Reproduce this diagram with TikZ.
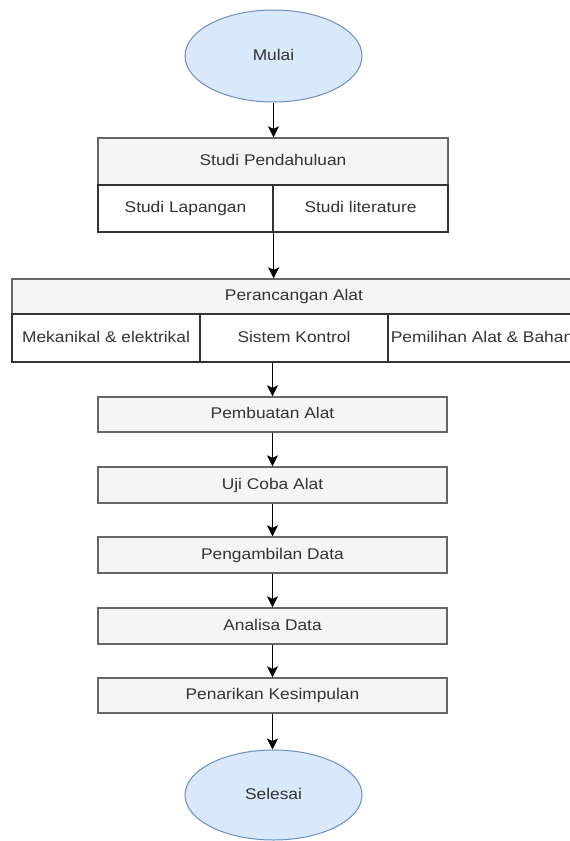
\documentclass[tikz,border=0pt]{standalone}
\usepackage{fontspec}
\setmainfont[FakeStretch=1.12]{Liberation Sans}
\usetikzlibrary{shapes.geometric,arrows.meta}
\definecolor{txt}{HTML}{333333}
\definecolor{hfill}{HTML}{F5F5F5}
\definecolor{hdraw}{HTML}{666666}
\definecolor{efill}{HTML}{DAE8FC}
\definecolor{edraw}{HTML}{6C8EBF}
\definecolor{cdraw}{HTML}{333333}
\begin{document}
\begin{tikzpicture}[x=1pt,y=-1pt,
  every node/.style={font=\fontsize{15.5}{18}\selectfont, text=txt, inner sep=0pt, text height=11.5pt, text depth=3.5pt},
  term/.style={ellipse, draw=edraw, fill=efill, line width=1pt, minimum width=177pt, minimum height=92pt},
  hbox/.style={rectangle, draw=hdraw, fill=hfill, line width=1.3pt},
  cell/.style={rectangle, draw=cdraw, fill=white, line width=1.3pt},
  arr/.style={draw=black, line width=1.6pt, -{Stealth[length=11pt,width=11pt,inset=2.5pt]}}]
\useasboundingbox (0,0) rectangle (570,841);
\clip (0,0) rectangle (570,841);
\fill[white] (0,0) rectangle (570,841);

\node[term] (mulai) at (273.5,56) {Mulai};

\node[hbox, minimum width=350pt, minimum height=47pt] (sp) at (273,161.5) {Studi Pendahuluan};
\node[cell, minimum width=175pt, minimum height=47pt] (sl) at (185.5,208.5) {Studi Lapangan};
\node[cell, minimum width=175pt, minimum height=47pt] (slit) at (360.5,208.5) {Studi literature};

\node[hbox, minimum width=564pt, minimum height=35pt] (pa) at (294,296.5) {Perancangan Alat};
\node[cell, minimum width=188pt, minimum height=48pt] (mek) at (106,338) {Mekanikal \& elektrikal};
\node[cell, minimum width=188pt, minimum height=48pt] (sk) at (294,338) {Sistem Kontrol};
\node[cell, minimum width=188pt, minimum height=48pt] (pem) at (482,338) {Pemilihan Alat \& Bahan};

\node[hbox, minimum width=349pt, minimum height=35pt] (pb) at (272.5,414.5) {Pembuatan Alat};
\node[hbox, minimum width=349pt, minimum height=36pt] (uc) at (272.5,485) {Uji Coba Alat};
\node[hbox, minimum width=349pt, minimum height=36pt] (pd) at (272.5,555) {Pengambilan Data};
\node[hbox, minimum width=349pt, minimum height=36pt] (ad) at (272.5,626) {Analisa Data};
\node[hbox, minimum width=349pt, minimum height=35pt] (pk) at (272.5,695.5) {Penarikan Kesimpulan};

\node[term, minimum height=90pt] (sel) at (273.5,795) {Selesai};

\draw[arr] (mulai.south) -- (mulai.south |- sp.north);
\draw[arr] (sl.south east) -- (sl.south east |- pa.north);
\draw[arr] (pb.north |- sk.south) -- (pb.north);
\draw[arr] (pb.south) -- (uc.north);
\draw[arr] (uc.south) -- (pd.north);
\draw[arr] (pd.south) -- (ad.north);
\draw[arr] (ad.south) -- (pk.north);
\draw[arr] (pk.south) -- (pk.south |- sel.north);
\end{tikzpicture}
\end{document}
